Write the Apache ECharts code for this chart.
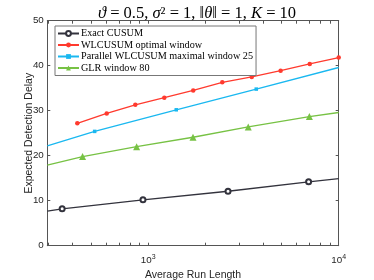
<!DOCTYPE html>
<html><head><meta charset="utf-8">
<script src="https://cdn.jsdelivr.net/npm/echarts@6/dist/echarts.min.js"></script>
<style>html,body{margin:0;padding:0;background:#fff}#c{width:374px;height:280px}</style>
</head><body><div id="c"></div>
<script>
// Average Run Length (x, log scale) and Expected Detection Delay (y)
const xMin = 295, xMax = 10000;
const xTickValues = [300,400,500,600,700,800,900,1000,2000,3000,4000,5000,6000,7000,8000,9000,10000];
const xLabelValues = [1000, 10000];
const yTicks = [0,10,20,30,40,50];

const cusumArl = [295, 353, 938, 2623, 6950, 10000];
const cusumEdd = [7.7, 8.2, 10.2, 12.1, 14.2, 14.9];
const cusumMarked = [false, true, true, true, true, false];

const wlArl = [424, 605, 855, 1214, 1722, 2447, 3494, 4955, 7045, 10000];
const wlEdd = [27.2, 29.4, 31.3, 32.9, 34.5, 36.3, 37.5, 38.9, 40.4, 41.8];

const parArl = [295, 523, 1403, 3690, 10000];
const parEdd = [22.2, 25.4, 30.2, 34.8, 39.6];
const parMarked = [false, true, true, true, false];

const glrArl = [295, 452, 869, 1718, 3350, 7015, 10000];
const glrEdd = [17.9, 19.8, 22.0, 24.1, 26.4, 28.7, 29.6];
const glrMarked = [false, true, true, true, true, true, false];

const names = ['Exact CUSUM','WLCUSUM optimal window','Parallel WLCUSUM maximal window 25','GLR window 80'];

const L = v => Math.log10(v);
function pts(xs, ys, marked){
  return xs.map((x,i)=>{
    const d = {value:[L(x), ys[i]]};
    if (marked && !marked[i]) d.symbol = 'none';
    return d;
  });
}
const axisColor = '#555';
const sans = 'Liberation Sans, Arial, sans-serif';
const serif = 'Liberation Serif, Times New Roman, serif';
function xAxisDef(pos, show){
  return {
    type:'value', position:pos, min:L(xMin), max:L(xMax),
    axisLine:{show:true, onZero:false, lineStyle:{color:axisColor, width:1}},
    axisTick:{show:true, inside:true, length:3, customValues:xTickValues.map(L), lineStyle:{color:axisColor}},
    axisLabel:{show:show, customValues:xLabelValues.map(L), margin:8,
      formatter:v=>'10{s|'+Math.round(v)+'}',
      color:'#262626', fontFamily:sans, fontSize:9.8,
      rich:{s:{fontSize:7, fontFamily:sans, color:'#262626', padding:[0,0,7,0]}}},
    splitLine:{show:false},
    name: show ? 'Average Run Length' : '', nameLocation:'middle', nameGap:23.5, nameMoveOverlap:false,
    nameTextStyle:{color:'#262626', fontFamily:sans, fontSize:10.5}
  };
}
function yAxisDef(pos, show){
  return {
    type:'value', position:pos, min:0, max:50, interval:10,
    axisLine:{show:true, onZero:false, lineStyle:{color:axisColor, width:1}},
    axisTick:{show:true, inside:true, length:3, lineStyle:{color:axisColor}},
    axisLabel:{show:show, margin:3.5, color:'#262626', fontFamily:sans, fontSize:9.8},
    splitLine:{show:false},
    name: show ? 'Expected Detection Delay' : '', nameLocation:'middle', nameGap:13, nameMoveOverlap:false,
    nameTextStyle:{color:'#262626', fontFamily:sans, fontSize:10.5}
  };
}
const chart = echarts.init(document.getElementById('c'), null, {renderer:'canvas'});
chart.setOption({
  animation:false,
  backgroundColor:'#fff',
  title:{
    text:'{i|ϑ} = 0.5, {i|σ}² = 1, ‖{i|θ}‖ = 1, {i|K} = 10',
    left:192, top:0.5, textAlign:'center',
    textStyle:{fontFamily:serif, fontSize:16.5, fontWeight:'normal', color:'#000',
      rich:{i:{fontFamily:serif, fontSize:16.5, fontStyle:'italic', color:'#000'}}}
  },
  grid:{left:47.3, right:374-338.7, top:20.7, bottom:280-245.7, containLabel:false, outerBoundsMode:'none'},
  xAxis:[xAxisDef('bottom', true), xAxisDef('top', false)],
  yAxis:[yAxisDef('left', true), yAxisDef('right', false)],
  legend:{
    orient:'vertical', left:55, top:26, padding:[2,3,2,2], itemGap:0.5,
    itemWidth:21, itemHeight:6,
    backgroundColor:'#fff', borderColor:'#777', borderWidth:1,
    textStyle:{fontFamily:serif, fontSize:10.2, color:'#000', lineHeight:11, padding:[0,0,0,-3]},
    data:names
  },
  series:[
    {name:names[0], type:'line', data:pts(cusumArl,cusumEdd,cusumMarked),
     symbol:'emptyCircle', symbolSize:5, color:'#33333d',
     lineStyle:{width:1.3, color:'#33333d'}, itemStyle:{color:'#33333d', borderWidth:1.2}},
    {name:names[1], type:'line', data:pts(wlArl,wlEdd,null),
     symbol:'circle', symbolSize:4.5, color:'#ff3a2e',
     lineStyle:{width:1.3, color:'#ff3a2e'}, itemStyle:{color:'#ff3a2e'}},
    {name:names[2], type:'line', data:pts(parArl,parEdd,parMarked),
     symbol:'rect', symbolSize:3.5, color:'#1ab8f0',
     lineStyle:{width:1.3, color:'#1ab8f0'}, itemStyle:{color:'#1ab8f0'}},
    {name:names[3], type:'line', data:pts(glrArl,glrEdd,glrMarked),
     symbol:'triangle', symbolSize:7, color:'#77c244',
     lineStyle:{width:1.3, color:'#77c244'}, itemStyle:{color:'#77c244'}}
  ]
});
</script></body></html>
